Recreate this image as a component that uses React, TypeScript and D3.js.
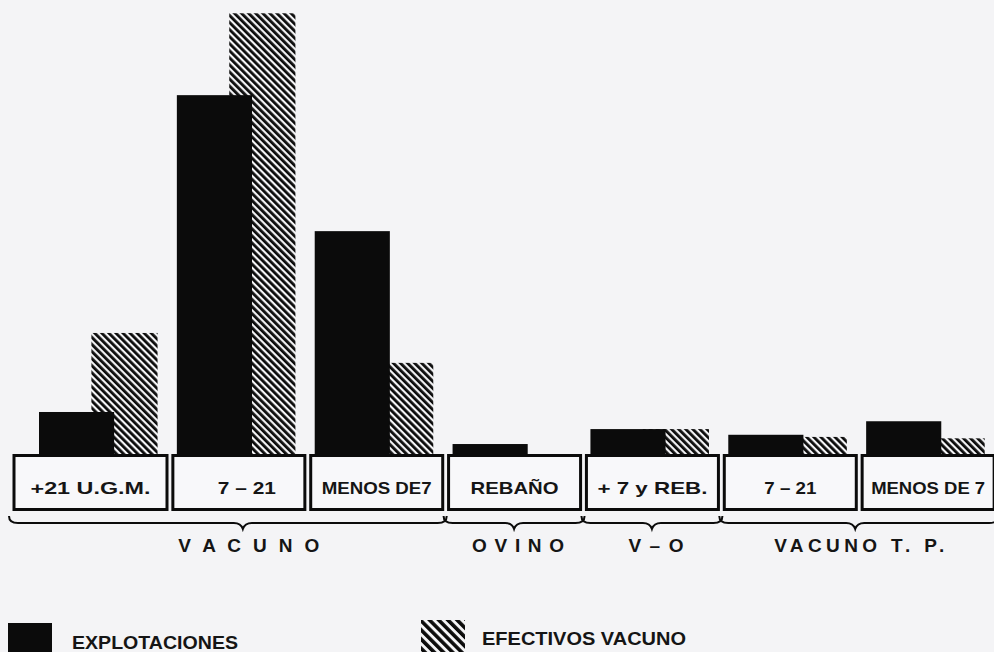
import * as d3 from 'd3';

// categories (label shown in each box)
const categories = ['+21 U.G.M.', '7 – 21 V', 'MENOS DE 7 V', 'REBAÑO', '+ 7 y REB.', '7 – 21 T', 'MENOS DE 7 T'];
const boxLabels = ['+21 U.G.M.', '7 – 21', 'MENOS DE7', 'REBAÑO', '+ 7 y REB.', '7 – 21', 'MENOS DE 7'];
const boxLabelWidths = [120, 58, 110, 88, 110, 52, 114];

// percentage of total
const explotaciones = [5.9, 50.4, 31.3, 1.4, 3.5, 2.7, 4.6];
const efectivosVacuno = [17.0, 61.9, 12.8, 0, 3.5, 2.4, 2.2];

// groups under the braces
const groupNames = ['V A C U N O', 'O V I N O', 'V – O', 'VACUNO T. P.'];
const groupSpans: [number, number][] = [[0, 2], [3, 3], [4, 4], [5, 6]];
const groupLabelWidths = [141, 92, 55, 170];

const W = 994;
const H = 652;
const margin = { left: 39, right: -10 };
const baseline = 454;
const boxH = 57;
const ink = '#0b0b0b';

export default function App() {
  const x = d3.scaleBand<string>()
    .domain(categories)
    .range([margin.left, W - margin.right]);
  const step = x.step();

  // 100 % of the total = 712 px
  const y = d3.scaleLinear().domain([0, 100]).range([baseline, baseline - 712]);

  const blackW = step * 0.545;
  const hatchOff = step * 0.38;
  const hatchW = step * 0.48;

  const boxX = (i: number) => x(categories[i])! - 4 - (i === 0 ? 21 : 0);
  const boxW = (i: number) => 132 + (i === 0 ? 21 : 0);

  const bracePath = (x0: number, x1: number, tip: number, y0: number) => {
    const p = d3.path();
    p.moveTo(x0, y0 - 7);
    p.quadraticCurveTo(x0, y0, x0 + 9, y0);
    p.lineTo(tip - 9, y0);
    p.quadraticCurveTo(tip - 2, y0, tip, y0 + 6);
    p.quadraticCurveTo(tip + 2, y0, tip + 9, y0);
    p.lineTo(x1 - 9, y0);
    p.quadraticCurveTo(x1, y0, x1, y0 - 7);
    return p.toString();
  };

  return (
    <svg width={W} height={H} viewBox={`0 0 ${W} ${H}`}
      style={{ position: 'absolute', left: 0, top: 0, fontFamily: '"Liberation Sans", Arial, sans-serif' }}>
      <defs>
        <pattern id="hatch" width="5" height="5" patternUnits="userSpaceOnUse" patternTransform="rotate(-45)">
          <rect width="2.8" height="5" fill={ink} />
        </pattern>
        <pattern id="hatchBig" width="6.5" height="6.5" patternUnits="userSpaceOnUse" patternTransform="rotate(-45)">
          <rect width="3.6" height="6.5" fill={ink} />
        </pattern>
      </defs>
      <rect width={W} height={H} fill="#f4f4f6" />

      {/* hatched bars behind */}
      {categories.map((c, i) => efectivosVacuno[i] > 0 && (
        <rect key={'h' + c} x={x(c)! + hatchOff} y={y(efectivosVacuno[i])}
          width={hatchW} height={baseline - y(efectivosVacuno[i])} fill="url(#hatch)" />
      ))}
      {/* black bars in front */}
      {categories.map((c, i) => (
        <rect key={'b' + c} x={x(c)!} y={y(explotaciones[i])}
          width={blackW} height={baseline - y(explotaciones[i])} fill={ink} />
      ))}

      {/* category boxes */}
      {categories.map((c, i) => (
        <g key={'box' + c}>
          <rect x={boxX(i)} y={baseline + 1.5} width={boxW(i)} height={boxH - 3}
            fill="#f8f8fa" stroke={ink} strokeWidth={3} />
          <text x={boxX(i) + boxW(i) / 2 + (i === 1 ? 8 : 0)} y={baseline + 40} textAnchor="middle"
            fontSize={17} fontWeight="bold" fill="#151515"
            textLength={boxLabelWidths[i]} lengthAdjust="spacingAndGlyphs">{boxLabels[i]}</text>
        </g>
      ))}

      {/* braces and group names */}
      {groupNames.map((g, k) => {
        const [a, b] = groupSpans[k];
        const x0 = boxX(a) - 5;
        const x1 = boxX(b) + boxW(b) + 4;
        const tip = b === categories.length - 1
          ? (boxX(a) + boxW(a) + boxX(b)) / 2 - 4
          : (x0 + x1) / 2 + (k === 0 ? 15 : 0);
        return (
          <g key={g}>
            <path d={bracePath(x0, x1, tip, 523)} fill="none" stroke={ink} strokeWidth={2} />
            <text x={tip + (k === 0 ? 6 : 4)} y={552} textAnchor="middle" fontSize={19} fontWeight="bold"
              fill="#151515" textLength={groupLabelWidths[k]} lengthAdjust="spacing">{g}</text>
          </g>
        );
      })}

      {/* legend */}
      <rect x={8} y={623} width={44} height={40} fill={ink} />
      <text x={72} y={649} fontSize={19} fontWeight="bold" fill="#151515"
        textLength={166} lengthAdjust="spacingAndGlyphs">EXPLOTACIONES</text>
      <rect x={421} y={620} width={44} height={40} fill="url(#hatchBig)" />
      <text x={482} y={645} fontSize={19} fontWeight="bold" fill="#151515"
        textLength={204} lengthAdjust="spacingAndGlyphs">EFECTIVOS VACUNO</text>
    </svg>
  );
}
